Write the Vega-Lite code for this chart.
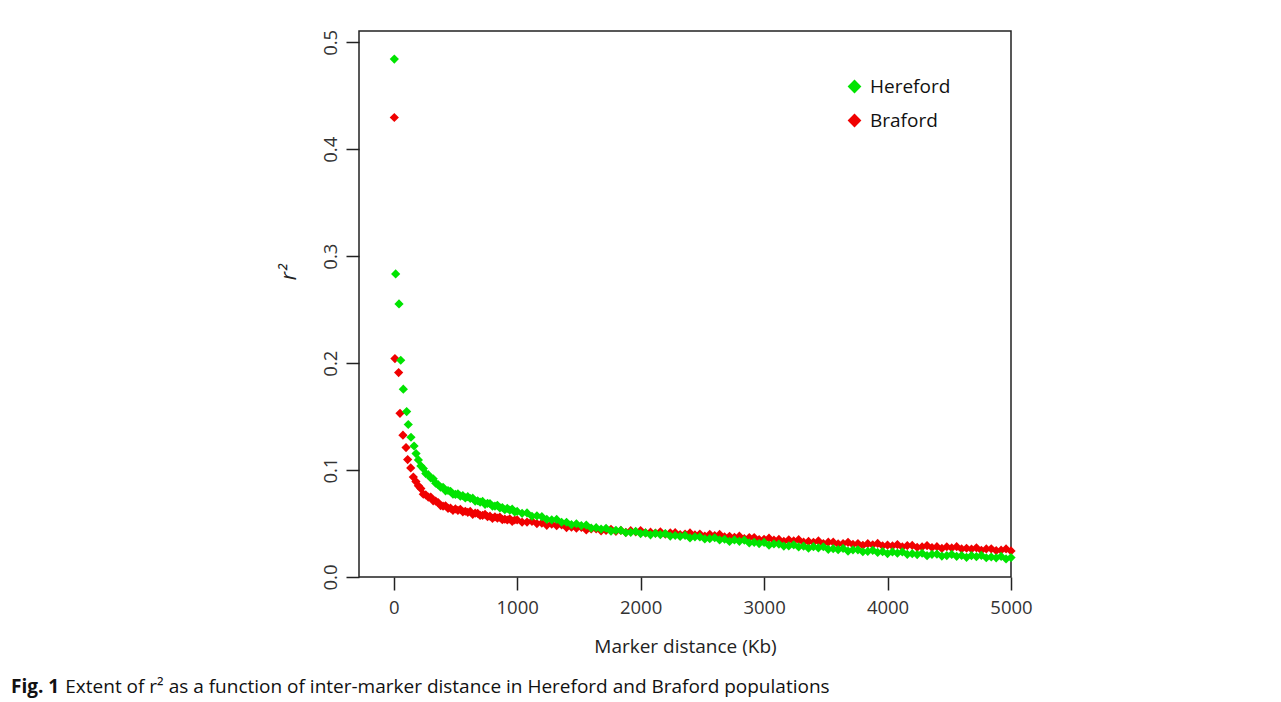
{
"$schema": "https://vega.github.io/schema/vega-lite/v6.json",
"width": 652,
"height": 546,
"autosize": {"type": "none"},
"padding": {"left": 359, "top": 31, "right": 270, "bottom": 125},
"background": "white",
"config": {"view": {"stroke": "#222", "strokeWidth": 1.5}, "font": "Open Sans"},
"title": {
  "text": "Fig. 1",
  "subtitle": "\u200b\u00a0\u00a0\u00a0\u00a0\u00a0\u00a0\u00a0\u00a0\u00a0\u00a0\u00a0Extent of r² as a function of inter-marker distance in Hereford and Braford populations",
  "orient": "bottom",
  "anchor": "start",
  "frame": "group",
  "dx": -348,
  "offset": 21,
  "font": "Open Sans",
  "fontSize": 19,
  "fontWeight": "bold",
  "color": "#111",
  "subtitleFont": "Open Sans",
  "subtitleFontSize": 19,
  "subtitleFontWeight": "normal",
  "subtitleColor": "#111",
  "subtitlePadding": -19
},
"data": {"values": [
{"pop":"Braford","d":5,"r2":0.4297},{"pop":"Braford","d":10,"r2":0.2043},{"pop":"Braford","d":40,"r2":0.1912},{"pop":"Braford","d":51,"r2":0.1531},{"pop":"Braford","d":75,"r2":0.1326},{"pop":"Braford","d":100,"r2":0.1210},{"pop":"Braford","d":113,"r2":0.1098},{"pop":"Braford","d":138,"r2":0.1020},{"pop":"Braford","d":159,"r2":0.0935},{"pop":"Braford","d":180,"r2":0.0892},
{"pop":"Braford","d":200,"r2":0.0853},{"pop":"Braford","d":220,"r2":0.0827},{"pop":"Braford","d":240,"r2":0.0774},{"pop":"Braford","d":260,"r2":0.0767},{"pop":"Braford","d":280,"r2":0.0747},{"pop":"Braford","d":300,"r2":0.0747},{"pop":"Braford","d":320,"r2":0.0712},{"pop":"Braford","d":340,"r2":0.0710},{"pop":"Braford","d":360,"r2":0.0696},{"pop":"Braford","d":380,"r2":0.0668},
{"pop":"Braford","d":400,"r2":0.0662},{"pop":"Braford","d":420,"r2":0.0666},{"pop":"Braford","d":440,"r2":0.0642},{"pop":"Braford","d":460,"r2":0.0645},{"pop":"Braford","d":480,"r2":0.0624},{"pop":"Braford","d":500,"r2":0.0637},{"pop":"Braford","d":520,"r2":0.0623},{"pop":"Braford","d":540,"r2":0.0633},{"pop":"Braford","d":560,"r2":0.0610},{"pop":"Braford","d":580,"r2":0.0615},
{"pop":"Braford","d":600,"r2":0.0605},{"pop":"Braford","d":620,"r2":0.0613},{"pop":"Braford","d":640,"r2":0.0586},{"pop":"Braford","d":660,"r2":0.0597},{"pop":"Braford","d":680,"r2":0.0595},{"pop":"Braford","d":700,"r2":0.0576},{"pop":"Braford","d":720,"r2":0.0577},{"pop":"Braford","d":740,"r2":0.0585},{"pop":"Braford","d":760,"r2":0.0564},{"pop":"Braford","d":780,"r2":0.0569},
{"pop":"Braford","d":800,"r2":0.0549},{"pop":"Braford","d":820,"r2":0.0563},{"pop":"Braford","d":840,"r2":0.0550},{"pop":"Braford","d":860,"r2":0.0560},{"pop":"Braford","d":880,"r2":0.0536},{"pop":"Braford","d":900,"r2":0.0541},{"pop":"Braford","d":920,"r2":0.0533},{"pop":"Braford","d":940,"r2":0.0544},{"pop":"Braford","d":960,"r2":0.0521},{"pop":"Braford","d":980,"r2":0.0533},
{"pop":"Braford","d":1000,"r2":0.0534},{"pop":"Braford","d":1040,"r2":0.0513},{"pop":"Braford","d":1080,"r2":0.0514},{"pop":"Braford","d":1120,"r2":0.0521},{"pop":"Braford","d":1160,"r2":0.0500},{"pop":"Braford","d":1200,"r2":0.0504},{"pop":"Braford","d":1240,"r2":0.0483},{"pop":"Braford","d":1280,"r2":0.0495},{"pop":"Braford","d":1320,"r2":0.0480},{"pop":"Braford","d":1360,"r2":0.0488},
{"pop":"Braford","d":1400,"r2":0.0462},{"pop":"Braford","d":1440,"r2":0.0466},{"pop":"Braford","d":1480,"r2":0.0456},{"pop":"Braford","d":1520,"r2":0.0465},{"pop":"Braford","d":1560,"r2":0.0440},{"pop":"Braford","d":1600,"r2":0.0450},{"pop":"Braford","d":1640,"r2":0.0450},{"pop":"Braford","d":1680,"r2":0.0432},{"pop":"Braford","d":1720,"r2":0.0436},{"pop":"Braford","d":1760,"r2":0.0446},
{"pop":"Braford","d":1800,"r2":0.0427},{"pop":"Braford","d":1840,"r2":0.0435},{"pop":"Braford","d":1880,"r2":0.0418},{"pop":"Braford","d":1920,"r2":0.0433},{"pop":"Braford","d":1960,"r2":0.0422},{"pop":"Braford","d":2000,"r2":0.0434},{"pop":"Braford","d":2040,"r2":0.0412},{"pop":"Braford","d":2080,"r2":0.0419},{"pop":"Braford","d":2120,"r2":0.0411},{"pop":"Braford","d":2160,"r2":0.0423},
{"pop":"Braford","d":2200,"r2":0.0400},{"pop":"Braford","d":2240,"r2":0.0413},{"pop":"Braford","d":2280,"r2":0.0414},{"pop":"Braford","d":2320,"r2":0.0397},{"pop":"Braford","d":2360,"r2":0.0401},{"pop":"Braford","d":2400,"r2":0.0412},{"pop":"Braford","d":2440,"r2":0.0393},{"pop":"Braford","d":2480,"r2":0.0401},{"pop":"Braford","d":2520,"r2":0.0383},{"pop":"Braford","d":2560,"r2":0.0399},
{"pop":"Braford","d":2600,"r2":0.0387},{"pop":"Braford","d":2640,"r2":0.0398},{"pop":"Braford","d":2680,"r2":0.0375},{"pop":"Braford","d":2720,"r2":0.0380},{"pop":"Braford","d":2760,"r2":0.0371},{"pop":"Braford","d":2800,"r2":0.0382},{"pop":"Braford","d":2840,"r2":0.0358},{"pop":"Braford","d":2880,"r2":0.0369},{"pop":"Braford","d":2920,"r2":0.0369},{"pop":"Braford","d":2960,"r2":0.0350},
{"pop":"Braford","d":3000,"r2":0.0353},{"pop":"Braford","d":3040,"r2":0.0363},{"pop":"Braford","d":3080,"r2":0.0344},{"pop":"Braford","d":3120,"r2":0.0351},{"pop":"Braford","d":3160,"r2":0.0333},{"pop":"Braford","d":3200,"r2":0.0348},{"pop":"Braford","d":3240,"r2":0.0337},{"pop":"Braford","d":3280,"r2":0.0349},{"pop":"Braford","d":3320,"r2":0.0326},{"pop":"Braford","d":3360,"r2":0.0333},
{"pop":"Braford","d":3400,"r2":0.0325},{"pop":"Braford","d":3440,"r2":0.0337},{"pop":"Braford","d":3480,"r2":0.0313},{"pop":"Braford","d":3520,"r2":0.0326},{"pop":"Braford","d":3560,"r2":0.0326},{"pop":"Braford","d":3600,"r2":0.0309},{"pop":"Braford","d":3640,"r2":0.0313},{"pop":"Braford","d":3680,"r2":0.0324},{"pop":"Braford","d":3720,"r2":0.0305},{"pop":"Braford","d":3760,"r2":0.0313},
{"pop":"Braford","d":3800,"r2":0.0296},{"pop":"Braford","d":3840,"r2":0.0312},{"pop":"Braford","d":3880,"r2":0.0301},{"pop":"Braford","d":3920,"r2":0.0314},{"pop":"Braford","d":3960,"r2":0.0292},{"pop":"Braford","d":4000,"r2":0.0299},{"pop":"Braford","d":4040,"r2":0.0291},{"pop":"Braford","d":4080,"r2":0.0303},{"pop":"Braford","d":4120,"r2":0.0281},{"pop":"Braford","d":4160,"r2":0.0294},
{"pop":"Braford","d":4200,"r2":0.0295},{"pop":"Braford","d":4240,"r2":0.0278},{"pop":"Braford","d":4280,"r2":0.0282},{"pop":"Braford","d":4320,"r2":0.0294},{"pop":"Braford","d":4360,"r2":0.0276},{"pop":"Braford","d":4400,"r2":0.0284},{"pop":"Braford","d":4440,"r2":0.0267},{"pop":"Braford","d":4480,"r2":0.0283},{"pop":"Braford","d":4520,"r2":0.0272},{"pop":"Braford","d":4560,"r2":0.0284},
{"pop":"Braford","d":4600,"r2":0.0262},{"pop":"Braford","d":4640,"r2":0.0269},{"pop":"Braford","d":4680,"r2":0.0261},{"pop":"Braford","d":4720,"r2":0.0273},{"pop":"Braford","d":4760,"r2":0.0250},{"pop":"Braford","d":4800,"r2":0.0263},{"pop":"Braford","d":4840,"r2":0.0264},{"pop":"Braford","d":4880,"r2":0.0247},{"pop":"Braford","d":4920,"r2":0.0251},{"pop":"Braford","d":4960,"r2":0.0262},
{"pop":"Braford","d":5000,"r2":0.0244},
{"pop":"Hereford","d":5,"r2":0.4843},{"pop":"Hereford","d":16,"r2":0.2834},{"pop":"Hereford","d":43,"r2":0.2554},{"pop":"Hereford","d":57,"r2":0.2027},{"pop":"Hereford","d":78,"r2":0.1756},{"pop":"Hereford","d":105,"r2":0.1547},{"pop":"Hereford","d":118,"r2":0.1426},{"pop":"Hereford","d":140,"r2":0.1307},{"pop":"Hereford","d":165,"r2":0.1225},{"pop":"Hereford","d":181,"r2":0.1154},
{"pop":"Hereford","d":200,"r2":0.1095},{"pop":"Hereford","d":220,"r2":0.1039},{"pop":"Hereford","d":240,"r2":0.1014},{"pop":"Hereford","d":260,"r2":0.0967},{"pop":"Hereford","d":280,"r2":0.0957},{"pop":"Hereford","d":300,"r2":0.0926},{"pop":"Hereford","d":320,"r2":0.0918},{"pop":"Hereford","d":340,"r2":0.0877},{"pop":"Hereford","d":360,"r2":0.0863},{"pop":"Hereford","d":380,"r2":0.0840},
{"pop":"Hereford","d":400,"r2":0.0839},{"pop":"Hereford","d":420,"r2":0.0806},{"pop":"Hereford","d":440,"r2":0.0809},{"pop":"Hereford","d":460,"r2":0.0801},{"pop":"Hereford","d":480,"r2":0.0775},{"pop":"Hereford","d":500,"r2":0.0772},{"pop":"Hereford","d":520,"r2":0.0778},{"pop":"Hereford","d":540,"r2":0.0756},{"pop":"Hereford","d":560,"r2":0.0760},{"pop":"Hereford","d":580,"r2":0.0739},
{"pop":"Hereford","d":600,"r2":0.0751},{"pop":"Hereford","d":620,"r2":0.0734},{"pop":"Hereford","d":640,"r2":0.0737},{"pop":"Hereford","d":660,"r2":0.0710},{"pop":"Hereford","d":680,"r2":0.0713},{"pop":"Hereford","d":700,"r2":0.0700},{"pop":"Hereford","d":720,"r2":0.0707},{"pop":"Hereford","d":740,"r2":0.0680},{"pop":"Hereford","d":760,"r2":0.0689},{"pop":"Hereford","d":780,"r2":0.0686},
{"pop":"Hereford","d":800,"r2":0.0663},{"pop":"Hereford","d":820,"r2":0.0663},{"pop":"Hereford","d":840,"r2":0.0670},{"pop":"Hereford","d":860,"r2":0.0646},{"pop":"Hereford","d":880,"r2":0.0650},{"pop":"Hereford","d":900,"r2":0.0629},{"pop":"Hereford","d":920,"r2":0.0641},{"pop":"Hereford","d":940,"r2":0.0626},{"pop":"Hereford","d":960,"r2":0.0634},{"pop":"Hereford","d":980,"r2":0.0609},
{"pop":"Hereford","d":1000,"r2":0.0613},{"pop":"Hereford","d":1040,"r2":0.0596},{"pop":"Hereford","d":1080,"r2":0.0599},{"pop":"Hereford","d":1120,"r2":0.0568},{"pop":"Hereford","d":1160,"r2":0.0572},{"pop":"Hereford","d":1200,"r2":0.0564},{"pop":"Hereford","d":1240,"r2":0.0539},{"pop":"Hereford","d":1280,"r2":0.0535},{"pop":"Hereford","d":1320,"r2":0.0538},{"pop":"Hereford","d":1360,"r2":0.0512},
{"pop":"Hereford","d":1400,"r2":0.0512},{"pop":"Hereford","d":1440,"r2":0.0489},{"pop":"Hereford","d":1480,"r2":0.0498},{"pop":"Hereford","d":1520,"r2":0.0481},{"pop":"Hereford","d":1560,"r2":0.0486},{"pop":"Hereford","d":1600,"r2":0.0458},{"pop":"Hereford","d":1640,"r2":0.0461},{"pop":"Hereford","d":1680,"r2":0.0448},{"pop":"Hereford","d":1720,"r2":0.0456},{"pop":"Hereford","d":1760,"r2":0.0428},
{"pop":"Hereford","d":1800,"r2":0.0437},{"pop":"Hereford","d":1840,"r2":0.0436},{"pop":"Hereford","d":1880,"r2":0.0416},{"pop":"Hereford","d":1920,"r2":0.0418},{"pop":"Hereford","d":1960,"r2":0.0426},{"pop":"Hereford","d":2000,"r2":0.0406},{"pop":"Hereford","d":2040,"r2":0.0412},{"pop":"Hereford","d":2080,"r2":0.0394},{"pop":"Hereford","d":2120,"r2":0.0408},{"pop":"Hereford","d":2160,"r2":0.0396},
{"pop":"Hereford","d":2200,"r2":0.0406},{"pop":"Hereford","d":2240,"r2":0.0383},{"pop":"Hereford","d":2280,"r2":0.0388},{"pop":"Hereford","d":2320,"r2":0.0379},{"pop":"Hereford","d":2360,"r2":0.0389},{"pop":"Hereford","d":2400,"r2":0.0365},{"pop":"Hereford","d":2440,"r2":0.0376},{"pop":"Hereford","d":2480,"r2":0.0375},{"pop":"Hereford","d":2520,"r2":0.0356},{"pop":"Hereford","d":2560,"r2":0.0358},
{"pop":"Hereford","d":2600,"r2":0.0367},{"pop":"Hereford","d":2640,"r2":0.0347},{"pop":"Hereford","d":2680,"r2":0.0353},{"pop":"Hereford","d":2720,"r2":0.0333},{"pop":"Hereford","d":2760,"r2":0.0347},{"pop":"Hereford","d":2800,"r2":0.0334},{"pop":"Hereford","d":2840,"r2":0.0344},{"pop":"Hereford","d":2880,"r2":0.0319},{"pop":"Hereford","d":2920,"r2":0.0324},{"pop":"Hereford","d":2960,"r2":0.0313},
{"pop":"Hereford","d":3000,"r2":0.0323},{"pop":"Hereford","d":3040,"r2":0.0298},{"pop":"Hereford","d":3080,"r2":0.0309},{"pop":"Hereford","d":3120,"r2":0.0308},{"pop":"Hereford","d":3160,"r2":0.0289},{"pop":"Hereford","d":3200,"r2":0.0291},{"pop":"Hereford","d":3240,"r2":0.0301},{"pop":"Hereford","d":3280,"r2":0.0281},{"pop":"Hereford","d":3320,"r2":0.0288},{"pop":"Hereford","d":3360,"r2":0.0269},
{"pop":"Hereford","d":3400,"r2":0.0284},{"pop":"Hereford","d":3440,"r2":0.0272},{"pop":"Hereford","d":3480,"r2":0.0283},{"pop":"Hereford","d":3520,"r2":0.0259},{"pop":"Hereford","d":3560,"r2":0.0265},{"pop":"Hereford","d":3600,"r2":0.0256},{"pop":"Hereford","d":3640,"r2":0.0267},{"pop":"Hereford","d":3680,"r2":0.0243},{"pop":"Hereford","d":3720,"r2":0.0254},{"pop":"Hereford","d":3760,"r2":0.0254},
{"pop":"Hereford","d":3800,"r2":0.0236},{"pop":"Hereford","d":3840,"r2":0.0239},{"pop":"Hereford","d":3880,"r2":0.0249},{"pop":"Hereford","d":3920,"r2":0.0230},{"pop":"Hereford","d":3960,"r2":0.0237},{"pop":"Hereford","d":4000,"r2":0.0219},{"pop":"Hereford","d":4040,"r2":0.0234},{"pop":"Hereford","d":4080,"r2":0.0223},{"pop":"Hereford","d":4120,"r2":0.0234},{"pop":"Hereford","d":4160,"r2":0.0212},
{"pop":"Hereford","d":4200,"r2":0.0218},{"pop":"Hereford","d":4240,"r2":0.0210},{"pop":"Hereford","d":4280,"r2":0.0222},{"pop":"Hereford","d":4320,"r2":0.0199},{"pop":"Hereford","d":4360,"r2":0.0212},{"pop":"Hereford","d":4400,"r2":0.0213},{"pop":"Hereford","d":4440,"r2":0.0196},{"pop":"Hereford","d":4480,"r2":0.0200},{"pop":"Hereford","d":4520,"r2":0.0211},{"pop":"Hereford","d":4560,"r2":0.0193},
{"pop":"Hereford","d":4600,"r2":0.0201},{"pop":"Hereford","d":4640,"r2":0.0184},{"pop":"Hereford","d":4680,"r2":0.0200},{"pop":"Hereford","d":4720,"r2":0.0190},{"pop":"Hereford","d":4760,"r2":0.0202},{"pop":"Hereford","d":4800,"r2":0.0180},{"pop":"Hereford","d":4840,"r2":0.0187},{"pop":"Hereford","d":4880,"r2":0.0179},{"pop":"Hereford","d":4920,"r2":0.0192},{"pop":"Hereford","d":4960,"r2":0.0169},
{"pop":"Hereford","d":5000,"r2":0.0182}
]},
"mark": {"type": "point", "shape": "diamond", "filled": true, "size": 85, "opacity": 1, "strokeWidth": 0},
"encoding": {
  "x": {
    "field": "d", "type": "quantitative",
    "scale": {"domain": [-281, 5000], "nice": false, "zero": false},
    "axis": {
      "values": [0, 1000, 2000, 3000, 4000, 5000],
      "format": "d",
      "domain": false, "grid": false,
      "tickSize": 13, "tickColor": "#222", "tickWidth": 1.5,
      "labelFont": "Open Sans", "labelFontSize": 18.5, "labelColor": "#333",
      "labelPadding": 8, "labelFlush": false,
      "title": "Marker distance (Kb)",
      "titleFont": "Open Sans", "titleFontSize": 19, "titleFontWeight": "normal", "titleColor": "#222",
      "titlePadding": 21
    }
  },
  "y": {
    "field": "r2", "type": "quantitative",
    "scale": {"domain": [0, 0.5106], "nice": false, "zero": true},
    "axis": {
      "values": [0, 0.1, 0.2, 0.3, 0.4, 0.5],
      "format": ".1f",
      "domain": false, "grid": false,
      "tickSize": 13, "tickColor": "#222", "tickWidth": 1.5,
      "labelFont": "Open Sans", "labelFontSize": 18.5, "labelColor": "#333",
      "labelAngle": 270, "labelAlign": "center", "labelBaseline": "bottom",
      "labelPadding": 6, "labelFlush": false,
      "title": "r²",
      "titleFont": "Open Sans", "titleFontSize": 21, "titleFontStyle": "italic", "titleFontWeight": "normal", "titleColor": "#222",
      "titlePadding": 22, "titleY": 241
    }
  },
  "color": {
    "field": "pop", "type": "nominal",
    "scale": {"domain": ["Hereford", "Braford"], "range": ["#00e400", "#f00000"]},
    "legend": {
      "title": null, "orient": "none", "legendX": 486, "legendY": 46,
      "symbolType": "diamond", "symbolSize": 190, "symbolStrokeWidth": 0, "symbolOpacity": 1,
      "labelFont": "Open Sans", "labelFontSize": 19, "labelColor": "#111",
      "labelOffset": 6, "rowPadding": 14, "padding": 0
    }
  }
}
}
